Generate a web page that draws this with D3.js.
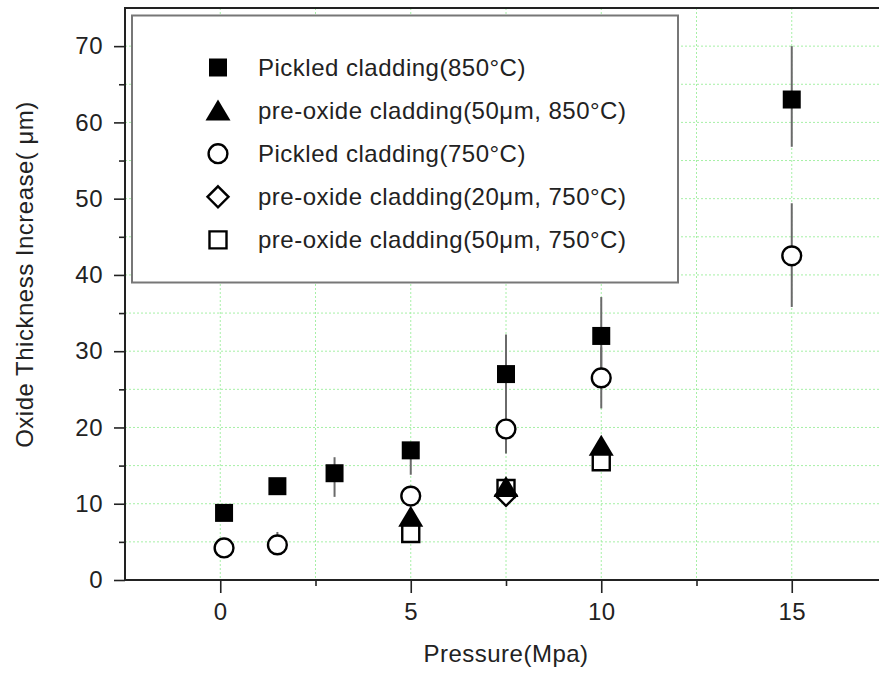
<!DOCTYPE html>
<html>
<head>
<meta charset="utf-8">
<script src="https://cdn.jsdelivr.net/npm/d3@7"></script>
<style>
  html, body { margin: 0; padding: 0; background: #fff; }
  svg { display: block; font-family: "Liberation Sans", Arial, sans-serif; }
  svg text { letter-spacing: 0.5px; }
</style>
</head>
<body>
<svg id="chart" width="879" height="673"></svg>
<script>
// Oxide thickness increase vs. pressure, five cladding conditions.
// Each point: pressure (MPa), thickness increase (µm), optional error-bar low/high.
const pickled850 = [
  { x: 0.1, y: 8.8 },
  { x: 1.5, y: 12.3 },
  { x: 3,   y: 14.0, lo: 10.9, hi: 16.1 },
  { x: 5,   y: 17.0, lo: 13.8, hi: 17.0 },
  { x: 7.5, y: 27.0, lo: 21.8, hi: 32.2 },
  { x: 10,  y: 32.0, lo: 27.0, hi: 37.1 },
  { x: 15,  y: 63.0, lo: 56.8, hi: 70.0 }
];
const preOxide50at850 = [
  { x: 5,   y: 8.3 },
  { x: 7.5, y: 12.2 },
  { x: 10,  y: 17.6 }
];
const pickled750 = [
  { x: 0.1, y: 4.2 },
  { x: 1.5, y: 4.6, lo: 4.6, hi: 6.3 },
  { x: 5,   y: 11.0 },
  { x: 7.5, y: 19.8, lo: 16.6, hi: 23.0 },
  { x: 10,  y: 26.5, lo: 22.5, hi: 30.5 },
  { x: 15,  y: 42.5, lo: 35.8, hi: 49.4 }
];
const preOxide20at750 = [
  { x: 7.5, y: 11.1 }
];
const preOxide50at750 = [
  { x: 5,   y: 6.1 },
  { x: 7.5, y: 12.0 },
  { x: 10,  y: 15.5 }
];

const seriesNames = [
  "Pickled cladding(850°C)",
  "pre-oxide cladding(50μm, 850°C)",
  "Pickled cladding(750°C)",
  "pre-oxide cladding(20μm, 750°C)",
  "pre-oxide cladding(50μm, 750°C)"
];
const seriesShapes = ["filledSquare", "filledTriangle", "openCircle", "openDiamond", "openSquare"];
const seriesData = [pickled850, preOxide50at850, pickled750, preOxide20at750, preOxide50at750];

const xMajorTicks = [0, 5, 10, 15];
const xMinorTicks = [2.5, 7.5, 12.5];
const yMajorTicks = [0, 10, 20, 30, 40, 50, 60, 70];
const yMinorTicks = [5, 15, 25, 35, 45, 55, 65];
const xGridValues = [0, 2.5, 5, 7.5, 10, 12.5, 15];
const yGridValues = [5, 10, 15, 20, 25, 30, 35, 40, 45, 50, 55, 60, 65, 70];

const xTitle = "Pressure(Mpa)";
const yTitle = "Oxide Thickness Increase( μm)";

// ---- layout ----
const W = 879, H = 673;
const plot = { left: 125, right: 887, top: 8, bottom: 580 };
const FONT = 24;
const INK = "#222";

const x = d3.scaleLinear().domain([-2.5, 17.5]).range([plot.left, plot.right]);
const y = d3.scaleLinear().domain([0, 75]).range([plot.bottom, plot.top]);

const svg = d3.select("#chart");
svg.append("rect").attr("width", W).attr("height", H).attr("fill", "#fff");

// dotted grid
const grid = svg.append("g").attr("stroke", "#a6f0a6").attr("stroke-width", 1)
  .attr("stroke-dasharray", "2,2");
grid.selectAll("line.v").data(xGridValues).join("line")
  .attr("x1", d => x(d)).attr("x2", d => x(d))
  .attr("y1", plot.top).attr("y2", plot.bottom);
grid.selectAll("line.h").data(yGridValues).join("line")
  .attr("x1", plot.left).attr("x2", plot.right)
  .attr("y1", d => y(d)).attr("y2", d => y(d));

// axes: major ticks with labels, minor ticks without
function styleAxis(g) {
  g.select(".domain").remove();
  g.selectAll(".tick line").attr("stroke", INK).attr("stroke-width", 1.6);
  g.selectAll(".tick text").attr("fill", INK).attr("font-size", FONT)
    .attr("font-family", "Liberation Sans, Arial, sans-serif");
}
svg.append("g").attr("transform", `translate(${plot.left},0)`)
  .call(d3.axisLeft(y).tickValues(yMajorTicks).tickSize(11).tickPadding(11).tickFormat(d3.format("d")))
  .call(styleAxis);
svg.append("g").attr("transform", `translate(${plot.left},0)`)
  .call(d3.axisLeft(y).tickValues(yMinorTicks).tickSize(6).tickFormat(""))
  .call(styleAxis);
svg.append("g").attr("transform", `translate(0,${plot.bottom})`)
  .call(d3.axisBottom(x).tickValues(xMajorTicks).tickSize(13).tickPadding(10).tickFormat(d3.format("d")))
  .call(styleAxis);
svg.append("g").attr("transform", `translate(0,${plot.bottom})`)
  .call(d3.axisBottom(x).tickValues(xMinorTicks).tickSize(6).tickFormat(""))
  .call(styleAxis);

// frame
svg.append("rect")
  .attr("x", plot.left).attr("y", plot.top)
  .attr("width", plot.right - plot.left).attr("height", plot.bottom - plot.top)
  .attr("fill", "none").attr("stroke", INK).attr("stroke-width", 2);

// axis titles
svg.append("text")
  .attr("x", (plot.left + plot.right) / 2).attr("y", 662)
  .attr("text-anchor", "middle").attr("font-size", FONT).attr("fill", INK)
  .text(xTitle);
svg.append("text")
  .attr("transform", `translate(33,${274.5}) rotate(-90)`)
  .attr("text-anchor", "middle").attr("font-size", FONT).attr("fill", INK)
  .text(yTitle);

// marker shapes
function shapePath(kind) {
  const p = d3.path();
  if (kind === "filledSquare") { p.rect(-9, -9, 18, 18); }
  else if (kind === "openSquare") { p.rect(-8.5, -8.5, 17, 17); }
  else if (kind === "filledTriangle") {
    p.moveTo(0, -11); p.lineTo(12.5, 10); p.lineTo(-12.5, 10); p.closePath();
  } else if (kind === "openCircle") { p.arc(0, 0, 9.4, 0, 2 * Math.PI); }
  else if (kind === "openDiamond") {
    p.moveTo(0, -10.5); p.lineTo(10.5, 0); p.lineTo(0, 10.5); p.lineTo(-10.5, 0); p.closePath();
  }
  return p.toString();
}
function shapeStyle(sel, kind) {
  const filled = kind.startsWith("filled");
  sel.attr("d", shapePath(kind))
    .attr("fill", filled ? "#000" : "#fff")
    .attr("stroke", "#000")
    .attr("stroke-width", filled ? 0 : 2.4)
    .attr("stroke-linejoin", "miter");
}

// error bars first, behind every marker
const errG = svg.append("g").attr("stroke", "#6a6a6a").attr("stroke-width", 2);
seriesData.forEach(data => {
  errG.selectAll(null).data(data.filter(d => d.lo !== undefined)).join("line")
    .attr("x1", d => x(d.x)).attr("x2", d => x(d.x))
    .attr("y1", d => y(d.lo)).attr("y2", d => y(d.hi));
});

// drawing order: open squares, diamonds, triangles, circles, filled squares
const drawOrder = [4, 3, 1, 2, 0];
drawOrder.forEach(i => {
  svg.append("g").selectAll("path").data(seriesData[i]).join("path")
    .attr("transform", d => `translate(${x(d.x)},${y(d.y)})`)
    .call(shapeStyle, seriesShapes[i]);
});

// legend
const legend = svg.append("g");
legend.append("rect")
  .attr("x", 132).attr("y", 15.5).attr("width", 546).attr("height", 267)
  .attr("fill", "#fff").attr("stroke", "#777").attr("stroke-width", 2);
const rowGap = 43.1;
seriesNames.forEach((name, i) => {
  const cy = 67.5 + i * rowGap;
  legend.append("path")
    .attr("transform", `translate(218,${cy})`)
    .call(shapeStyle, seriesShapes[i]);
  legend.append("text")
    .attr("x", 258).attr("y", cy + 8.5)
    .attr("font-size", FONT).attr("fill", INK)
    .text(name);
});
</script>
</body>
</html>
